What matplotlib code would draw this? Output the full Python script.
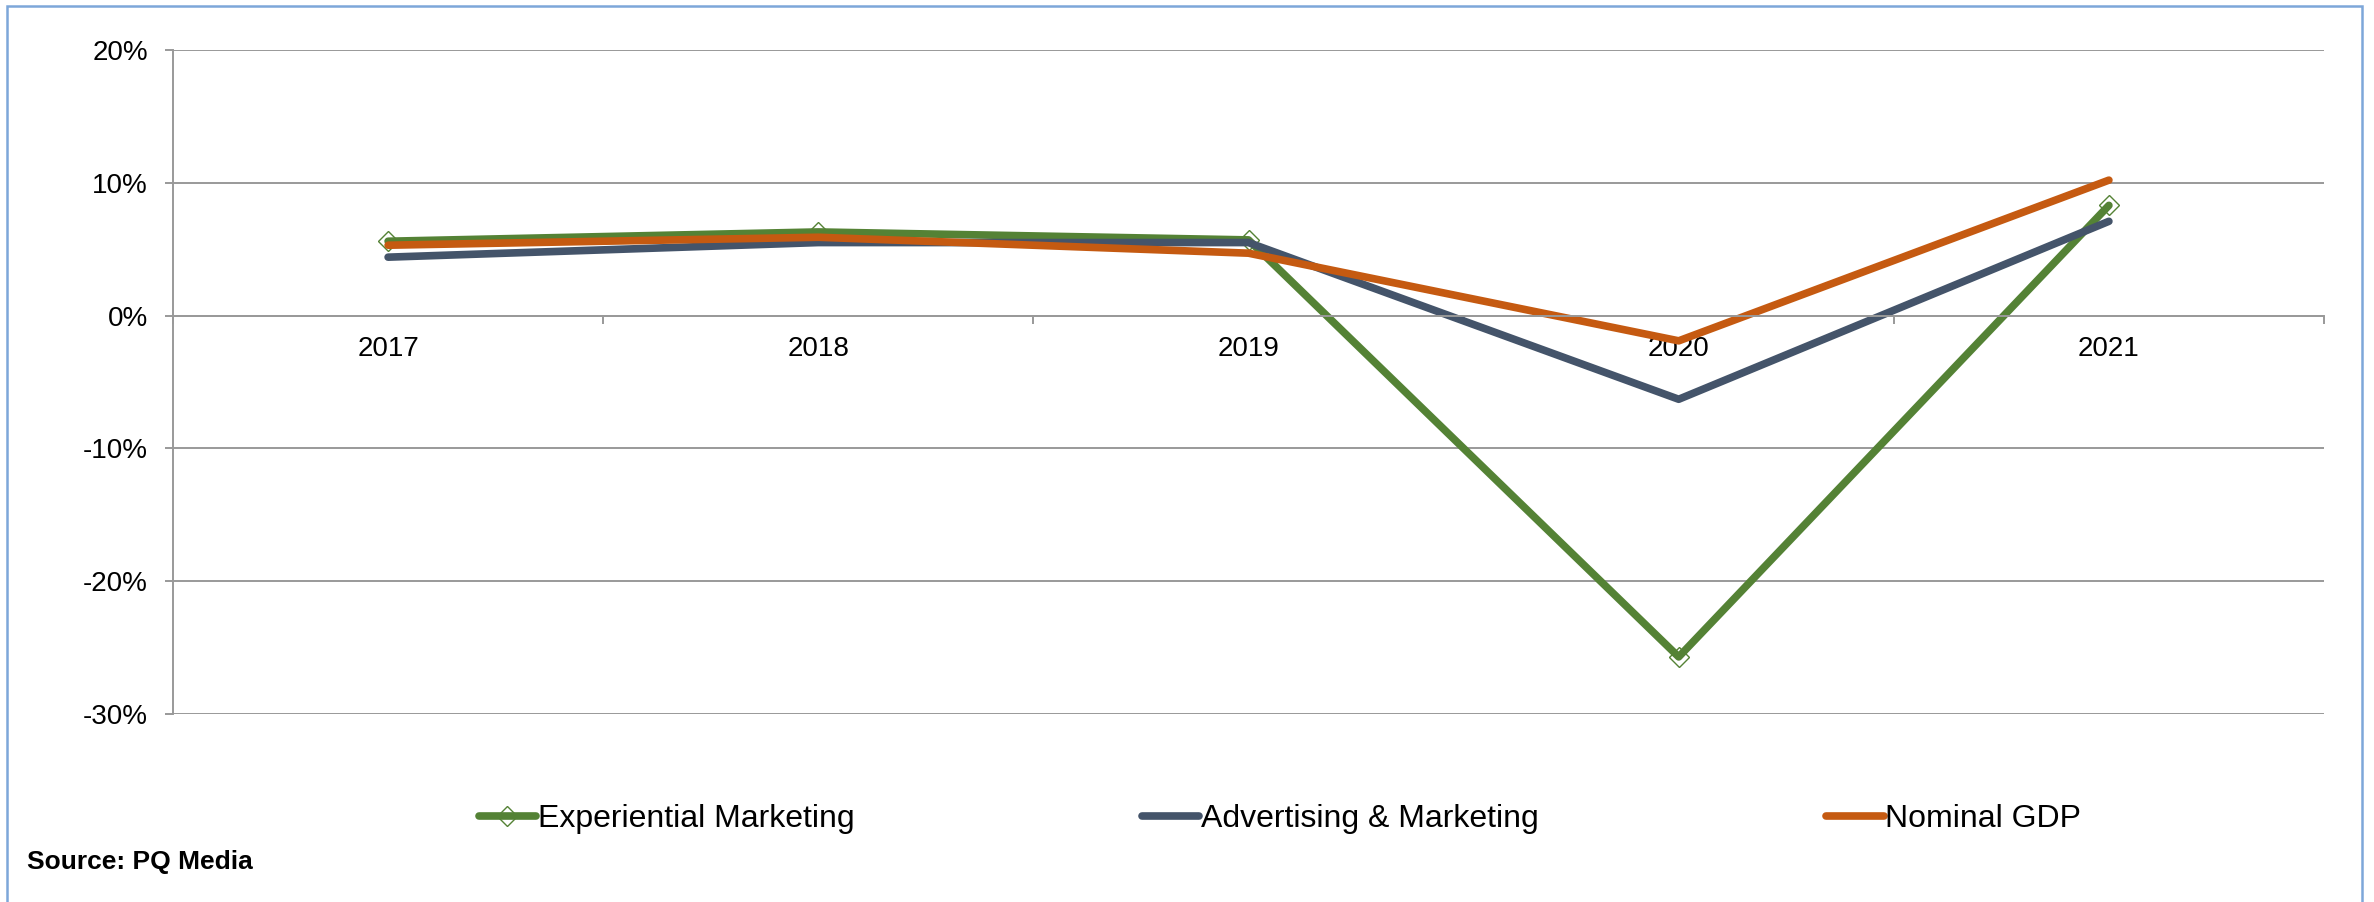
import matplotlib
matplotlib.use("Agg")
from matplotlib import pyplot as plt
from matplotlib.patches import Rectangle
from matplotlib.ticker import FuncFormatter, FixedLocator

plt.rcParams['font.family'] = ['Liberation Sans', 'DejaVu Sans']

years = ["2017", "2018", "2019", "2020", "2021"]
experiential = [5.6, 6.3, 5.7, -25.7, 8.3]
advertising = [4.4, 5.5, 5.5, -6.3, 7.1]
nominal_gdp = [5.3, 5.9, 4.7, -1.9, 10.2]

green = "#548235"
navy = "#44546A"
orange = "#C55A11"
grid_gray = "#999999"

fig = plt.figure(figsize=(23.74, 9.02), dpi=100)
ax = fig.add_axes([173 / 2374, 1 - 714 / 902, (2324 - 173) / 2374, (714 - 50) / 902])

x = range(len(years))
ax.plot(x, experiential, color=green, lw=5.5, solid_capstyle="round",
        marker="D", markersize=10, markerfacecolor="none",
        markeredgecolor=green, markeredgewidth=1.0, label="Experiential Marketing")
ax.plot(x, advertising, color=navy, lw=5.5, solid_capstyle="round",
        label="Advertising & Marketing")
ax.plot(x, nominal_gdp, color=orange, lw=5.5, solid_capstyle="round",
        label="Nominal GDP")

ax.set_xlim(-0.5, len(years) - 0.5)
ax.set_ylim(-30, 20)
ax.set_yticks([-30, -20, -10, 0, 10, 20])
ax.yaxis.set_major_formatter(FuncFormatter(lambda v, p: "%d%%" % v))
ax.yaxis.grid(True, color=grid_gray, lw=1.4)
ax.set_axisbelow(True)

# category axis crosses at zero, ticks between categories
ax.spines['bottom'].set_position(('data', 0))
ax.spines['bottom'].set_color(grid_gray)
ax.spines['bottom'].set_linewidth(1.4)
ax.spines['left'].set_color(grid_gray)
ax.spines['left'].set_linewidth(1.4)
ax.spines['top'].set_visible(False)
ax.spines['right'].set_visible(False)

ax.set_xticks(list(x))
ax.set_xticklabels(years)
ax.xaxis.set_minor_locator(FixedLocator([i - 0.5 for i in range(len(years) + 1)]))
ax.tick_params(axis='x', which='major', length=0, pad=15, labelsize=20)
ax.tick_params(axis='x', which='minor', length=6, width=1.4, color=grid_gray, direction='out')
ax.tick_params(axis='y', length=6, width=1.4, color=grid_gray, pad=12, labelsize=20)

fig.legend(loc="center", bbox_to_anchor=(1280 / 2374, 1 - 819 / 902), ncol=3,
           frameon=False, fontsize=23, handlelength=1.8, handletextpad=0.05,
           columnspacing=9.0)

fig.text(27 / 2374, 1 - 862 / 902, "Source: PQ Media", fontsize=19,
         fontweight="bold", va="center", ha="left")

# light blue frame around the chart area
fig.patches.append(Rectangle((7 / 2374, -0.05), (2362 - 7) / 2374, 1.05 - 6 / 902,
                             transform=fig.transFigure, fill=False,
                             edgecolor="#7DA7D9", lw=1.8))

fig.savefig("out.png", dpi=100)
